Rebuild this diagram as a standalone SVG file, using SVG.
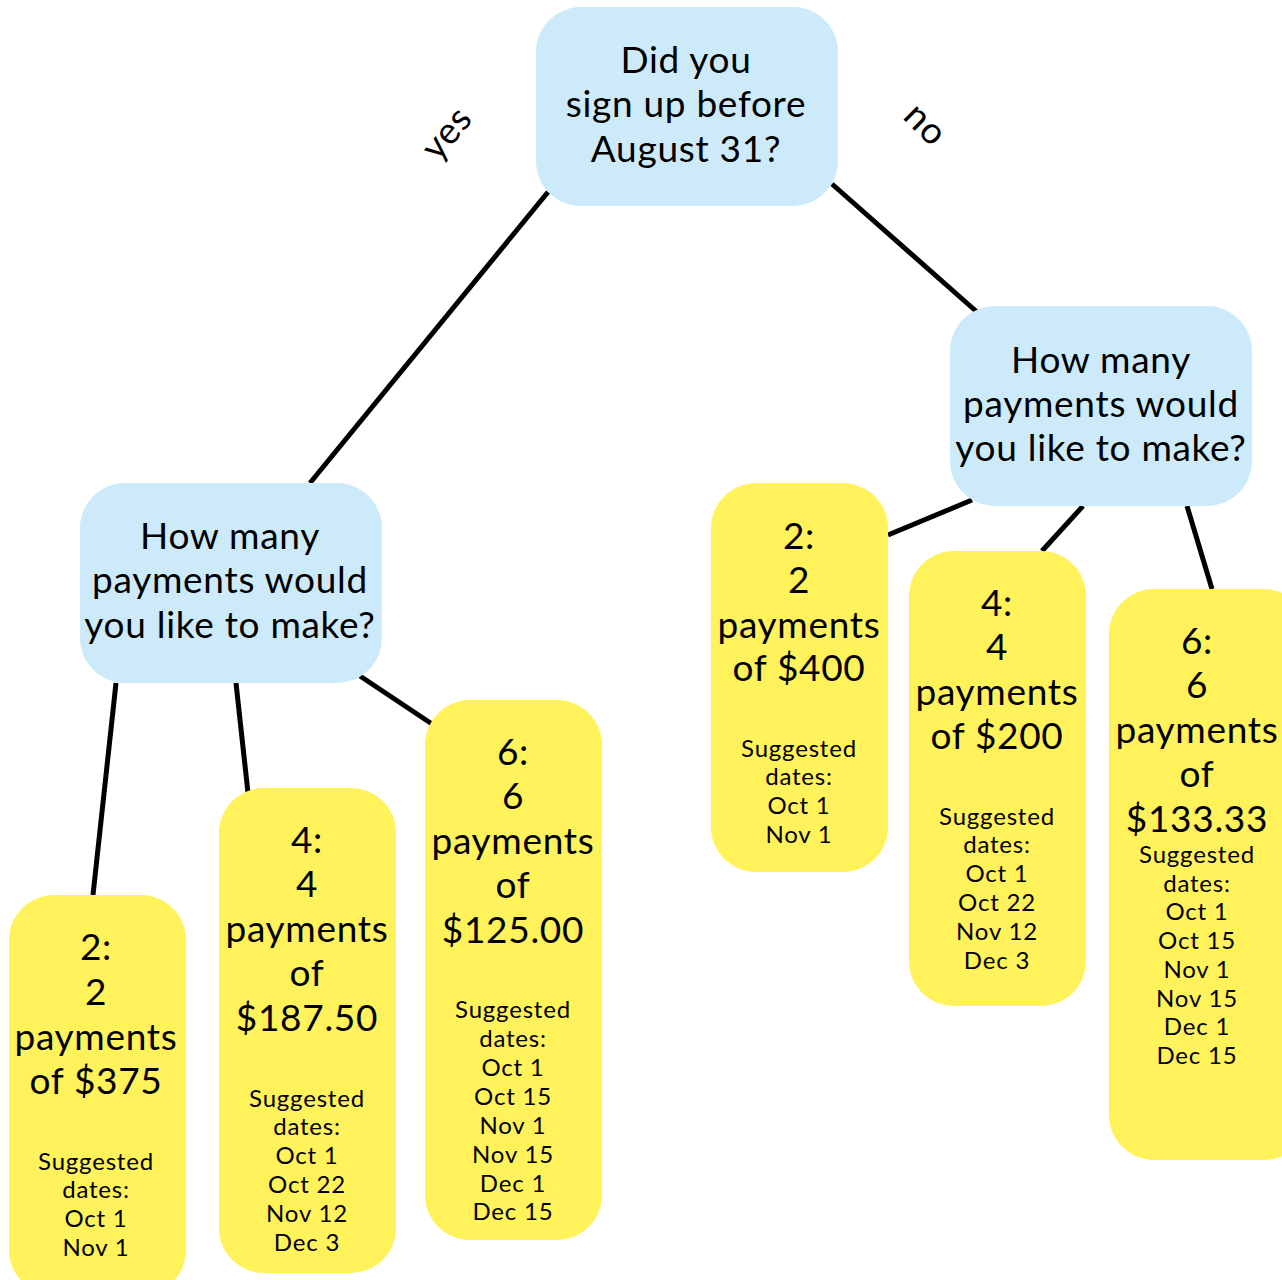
<svg xmlns="http://www.w3.org/2000/svg" width="1282" height="1280" viewBox="0 0 1282 1280">
<style>
.q{fill:#cdeafa}
.a{fill:#fff25a}
text{font-family:Lato,"Noto Sans",sans-serif;fill:#000;text-anchor:middle}
.big{font-size:37px;letter-spacing:0.7px}
.sm{font-size:24px;letter-spacing:0.8px}
.lbl{font-size:37px;letter-spacing:0.7px}
#edges line{stroke:#000;stroke-width:5;stroke-linecap:butt}
</style>
<rect width="1282" height="1280" fill="#fff"/>
<g id="edges">
<line x1="548" y1="192" x2="310" y2="483"/>
<line x1="832" y1="184" x2="977" y2="312"/>
<line x1="116" y1="683" x2="93" y2="895"/>
<line x1="236" y1="683" x2="248" y2="793"/>
<line x1="360" y1="676" x2="432" y2="724"/>
<line x1="972" y1="500" x2="888" y2="535"/>
<line x1="1083" y1="506" x2="1042" y2="551"/>
<line x1="1187" y1="506" x2="1212" y2="589"/>
</g>
<g id="labels">
<text class="lbl" transform="translate(456,141) rotate(-50)">yes</text>
<text class="lbl" transform="translate(917,133) rotate(45)">no</text>
</g>
<g id="root">
<rect class="q" x="536" y="7" width="302" height="199" rx="45"/>
<text class="big" x="686" y="73">Did you</text>
<text class="big" x="686" y="117">sign up before</text>
<text class="big" x="686" y="162">August 31?</text>
</g>
<g id="qLeft">
<rect class="q" x="80" y="483" width="302" height="200" rx="45"/>
<text class="big" x="230" y="549">How many</text>
<text class="big" x="230" y="593">payments would</text>
<text class="big" x="230" y="638">you like to make?</text>
</g>
<g id="qRight">
<rect class="q" x="950" y="306" width="302" height="200" rx="45"/>
<text class="big" x="1101" y="373">How many</text>
<text class="big" x="1101" y="417">payments would</text>
<text class="big" x="1101" y="461">you like to make?</text>
</g>
<g id="L1">
<rect class="a" x="9" y="895" width="177" height="400" rx="45"/>
<text class="big" x="96" y="960">2:</text>
<text class="big" x="96" y="1005">2</text>
<text class="big" x="96" y="1050">payments</text>
<text class="big" x="96" y="1094">of $375</text>
<text class="sm" x="96" y="1170">Suggested</text>
<text class="sm" x="96" y="1198">dates:</text>
<text class="sm" x="96" y="1227">Oct 1</text>
<text class="sm" x="96" y="1256">Nov 1</text>
</g>
<g id="L2">
<rect class="a" x="219" y="788" width="177" height="485" rx="45"/>
<text class="big" x="307" y="853">4:</text>
<text class="big" x="307" y="897">4</text>
<text class="big" x="307" y="942">payments</text>
<text class="big" x="307" y="986">of</text>
<text class="big" x="307" y="1031">$187.50</text>
<text class="sm" x="307" y="1107">Suggested</text>
<text class="sm" x="307" y="1135">dates:</text>
<text class="sm" x="307" y="1164">Oct 1</text>
<text class="sm" x="307" y="1193">Oct 22</text>
<text class="sm" x="307" y="1222">Nov 12</text>
<text class="sm" x="307" y="1251">Dec 3</text>
</g>
<g id="L3">
<rect class="a" x="425" y="700" width="177" height="540" rx="45"/>
<text class="big" x="513" y="765">6:</text>
<text class="big" x="513" y="809">6</text>
<text class="big" x="513" y="854">payments</text>
<text class="big" x="513" y="898">of</text>
<text class="big" x="513" y="943">$125.00</text>
<text class="sm" x="513" y="1018">Suggested</text>
<text class="sm" x="513" y="1047">dates:</text>
<text class="sm" x="513" y="1076">Oct 1</text>
<text class="sm" x="513" y="1105">Oct 15</text>
<text class="sm" x="513" y="1134">Nov 1</text>
<text class="sm" x="513" y="1163">Nov 15</text>
<text class="sm" x="513" y="1192">Dec 1</text>
<text class="sm" x="513" y="1220">Dec 15</text>
</g>
<g id="R1">
<rect class="a" x="711" y="483" width="177" height="389" rx="45"/>
<text class="big" x="799" y="549">2:</text>
<text class="big" x="799" y="593">2</text>
<text class="big" x="799" y="638">payments</text>
<text class="big" x="799" y="681">of $400</text>
<text class="sm" x="799" y="757">Suggested</text>
<text class="sm" x="799" y="785">dates:</text>
<text class="sm" x="799" y="814">Oct 1</text>
<text class="sm" x="799" y="843">Nov 1</text>
</g>
<g id="R2">
<rect class="a" x="909" y="551" width="177" height="455" rx="45"/>
<text class="big" x="997" y="616">4:</text>
<text class="big" x="997" y="660">4</text>
<text class="big" x="997" y="705">payments</text>
<text class="big" x="997" y="749">of $200</text>
<text class="sm" x="997" y="825">Suggested</text>
<text class="sm" x="997" y="853">dates:</text>
<text class="sm" x="997" y="882">Oct 1</text>
<text class="sm" x="997" y="911">Oct 22</text>
<text class="sm" x="997" y="940">Nov 12</text>
<text class="sm" x="997" y="969">Dec 3</text>
</g>
<g id="R3">
<rect class="a" x="1109" y="589" width="200" height="571" rx="45"/>
<text class="big" x="1197" y="654">6:</text>
<text class="big" x="1197" y="698">6</text>
<text class="big" x="1197" y="743">payments</text>
<text class="big" x="1197" y="787">of</text>
<text class="big" x="1197" y="832">$133.33</text>
<text class="sm" x="1197" y="863">Suggested</text>
<text class="sm" x="1197" y="892">dates:</text>
<text class="sm" x="1197" y="920">Oct 1</text>
<text class="sm" x="1197" y="949">Oct 15</text>
<text class="sm" x="1197" y="978">Nov 1</text>
<text class="sm" x="1197" y="1007">Nov 15</text>
<text class="sm" x="1197" y="1035">Dec 1</text>
<text class="sm" x="1197" y="1064">Dec 15</text>
</g>
</svg>
